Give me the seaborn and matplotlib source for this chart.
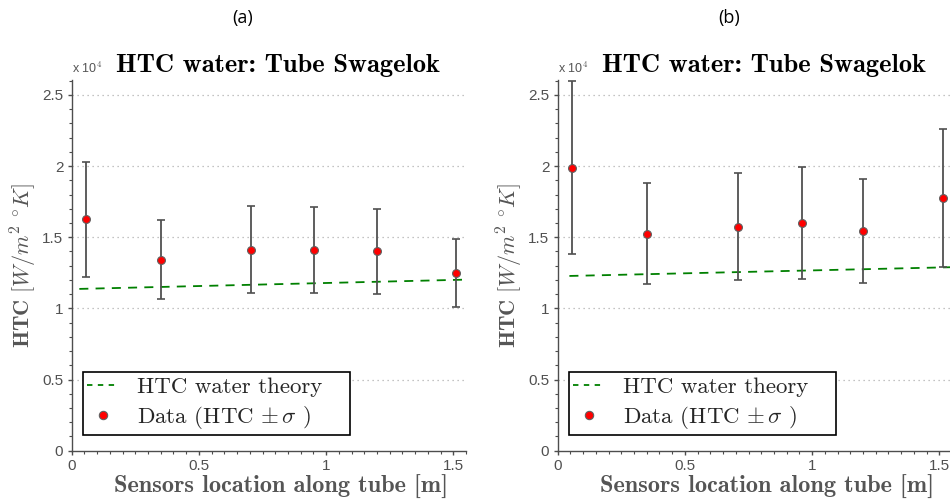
import matplotlib
matplotlib.use("Agg")
import matplotlib.pyplot as plt
import numpy as np
import pandas as pd
import seaborn as sns
from matplotlib.ticker import MultipleLocator, FuncFormatter
from matplotlib.lines import Line2D

# ---- data (HTC in W/m^2 K, sensor position in m) ----
panel_labels = ["(a)", "(b)"]
title_text = "HTC water: Tube Swagelok"

sensor_x_a = [0.055, 0.350, 0.704, 0.954, 1.199, 1.511]
htc_a = [16260, 13420, 14130, 14100, 14010, 12490]
sigma_a = [4030, 2770, 3070, 3050, 3000, 2400]
theory_x_a = [0.030, 1.546]
theory_a = [11370, 12020]

sensor_x_b = [0.057, 0.352, 0.708, 0.959, 1.201, 1.516]
htc_b = [19890, 15250, 15740, 16000, 15460, 17760]
sigma_b = [6060, 3560, 3770, 3910, 3660, 4840]
theory_x_b = [0.046, 1.560]
theory_b = [12280, 12900]

y_ticks = [0, 5000, 10000, 15000, 20000, 25000]

sns.set_theme(style="white")
plt.rcParams["mathtext.fontset"] = "cm"
plt.rcParams["font.family"] = ["Liberation Sans", "DejaVu Sans"]
plt.rcParams["axes.unicode_minus"] = False

W, H = 950, 504
fig = plt.figure(figsize=(9.5, 5.04), dpi=100)

GREY = "#4d4d4d"
x_max = 1.55
y_max = 26050
px_per_m = 254.4
px_per_unit = 142.3 / 1e4

panels = [
    (71.7, sensor_x_a, htc_a, sigma_a, theory_x_a, theory_a),
    (557.7, sensor_x_b, htc_b, sigma_b, theory_x_b, theory_b),
]

for i, (x0px, sx, hv, sg, tx, tv) in enumerate(panels):
    bottom_px = 450.7
    width = x_max * px_per_m / W
    height = y_max * px_per_unit / H
    ax = fig.add_axes([x0px / W, (H - bottom_px) / H, width, height])

    theory_df = pd.DataFrame({"x": tx, "htc": tv})
    data_df = pd.DataFrame({"x": sx, "htc": hv, "sigma": sg})

    for y in y_ticks[1:]:
        ax.axhline(y, color="#b0b0b0", lw=0.9, ls=(0, (1, 3)), zorder=0)

    sns.lineplot(data=theory_df, x="x", y="htc", ax=ax, color="#008000",
                 lw=1.3, linestyle=(0, (5, 4)), zorder=2)
    ax.errorbar(data_df["x"], data_df["htc"], yerr=data_df["sigma"], fmt="none",
                ecolor="#505050", elinewidth=1.3, capsize=3.2, capthick=1.2, zorder=3)
    sns.scatterplot(data=data_df, x="x", y="htc", ax=ax, color="#ff0000",
                    edgecolor="#606060", linewidth=0.8, s=32, zorder=4)

    ax.set_xlim(0, x_max)
    ax.set_ylim(0, y_max)
    ax.set_yticks(y_ticks)
    ax.yaxis.set_major_formatter(FuncFormatter(lambda v, p: f"{v/1e4:g}"))
    ax.yaxis.set_minor_locator(MultipleLocator(1000))
    ax.xaxis.set_major_locator(MultipleLocator(0.5))
    ax.xaxis.set_major_formatter(FuncFormatter(lambda v, p: f"{v:g}"))
    ax.xaxis.set_minor_locator(MultipleLocator(0.05))

    for s in ["top", "right"]:
        ax.spines[s].set_visible(False)
    for s in ["left", "bottom"]:
        ax.spines[s].set_color(GREY)
        ax.spines[s].set_linewidth(1.0)
    ax.tick_params(which="both", direction="out", colors=GREY, labelcolor="#505050",
                   left=True, bottom=True)
    ax.tick_params(which="major", length=3, width=1.0, labelsize=11, pad=3)
    ax.tick_params(which="minor", length=2, width=0.8)

    ax.set_xlabel("Sensors location along tube [m]", family="cmb10", fontsize=17.5,
                  color="#555555", labelpad=0)
    ax.xaxis.set_label_coords(0.53, -0.066)
    ax.set_ylabel(r"$\mathbf{HTC}\ [W/m^2\ {}^{\circ}K]$", fontsize=16,
                  color="#555555", labelpad=2)
    ax.set_title(title_text, family="cmb10", fontsize=19, color="black",
                 x=0.522, pad=6)

    ax.text(0.0, 1.012, r"x 10$^{4}$", transform=ax.transAxes, fontsize=9,
            color="#555555", ha="left", va="bottom")

    fig.text((x0px + 171) / W, 1 - 18 / H, panel_labels[i], family="Open Sans",
             fontsize=13, ha="center", va="center", color="black")

    handles = [
        Line2D([], [], color="#008000", lw=1.3, linestyle=(0, (3, 3))),
        Line2D([], [], color="none", marker="o", markerfacecolor="#ff0000",
               markeredgecolor="#606060", markersize=6, markeredgewidth=0.8),
    ]
    leg = ax.legend(handles, ["HTC water theory", r"Data (HTC $\pm\,\sigma$ )"],
                    loc="lower left", bbox_to_anchor=(0.028, 0.042, 0.678, 0.2),
                    mode="expand", borderaxespad=0,
                    prop={"family": "cmr10", "size": 16.5}, frameon=True, fancybox=False,
                    framealpha=1, edgecolor="black", handlelength=1.35,
                    handletextpad=0.8, borderpad=0.2, labelspacing=0.3)
    leg.get_frame().set_linewidth(1.2)

fig.savefig("out.png", dpi=100)
